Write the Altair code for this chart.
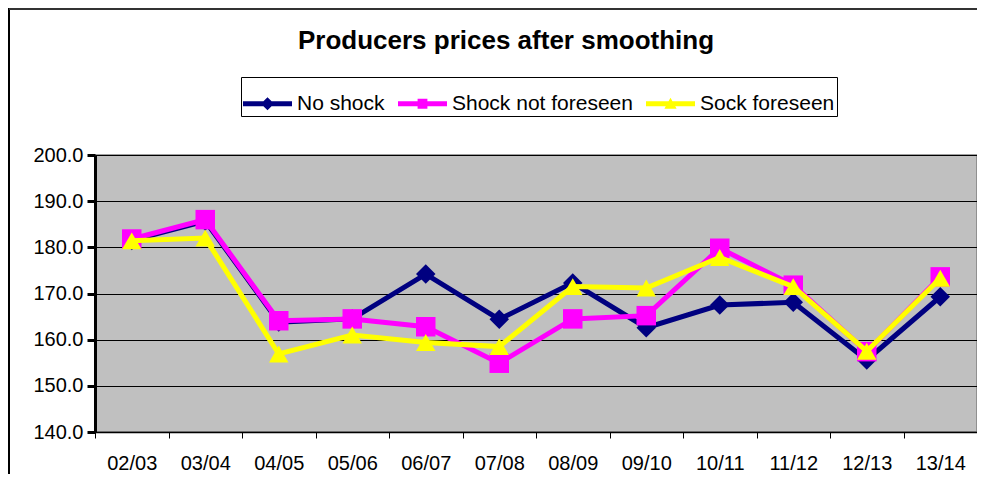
import altair as alt
import pandas as pd

categories = ["02/03", "03/04", "04/05", "05/06", "06/07", "07/08",
              "08/09", "09/10", "10/11", "11/12", "12/13", "13/14"]
no_shock = [181.5, 185.7, 163.8, 164.5, 174.2, 164.4, 172.3, 162.6, 167.5, 168.1, 155.6, 169.3]
shock_not_foreseen = [181.8, 186.0, 164.1, 164.5, 162.8, 154.9, 164.5, 165.2, 179.8, 171.8, 157.4, 173.6]
sock_foreseen = [181.4, 182.0, 156.9, 161.0, 159.4, 158.5, 171.5, 171.2, 177.8, 171.5, 157.5, 173.3]

series_names = ["No shock", "Shock not foreseen", "Sock foreseen"]
series_values = [no_shock, shock_not_foreseen, sock_foreseen]
series_colors = ["#000080", "#FF00FF", "#FFFF00"]
series_shapes = ["diamond", "square", "triangle-up"]
legend_paths = [
    "M-1,-0.1L1,-0.1L1,0.1L-1,0.1Z M0,-0.27L0.27,0L0,0.27L-0.27,0Z",
    "M-1,-0.1L1,-0.1L1,0.1L-1,0.1Z M-0.2,-0.2L0.2,-0.2L0.2,0.2L-0.2,0.2Z",
    "M-1,-0.1L1,-0.1L1,0.1L-1,0.1Z M0,-0.24L0.25,0.2L-0.25,0.2Z",
]

rows = []
for name, vals in zip(series_names, series_values):
    for c, v in zip(categories, vals):
        rows.append({"period": c, "value": v, "series": name})
df = pd.DataFrame(rows)

FONT = "Liberation Sans, Arial, sans-serif"
W, H = 882, 277

x_enc = alt.X("period:N", sort=categories,
              scale=alt.Scale(domain=categories, paddingInner=0, paddingOuter=0),
              axis=alt.Axis(title=None, labelAngle=0, labelFontSize=20, labelFont=FONT,
                            labelColor="black", tickBand="extent", tickSize=6,
                            tickColor="#000000", tickWidth=1, domainColor="black",
                            domainWidth=1.5, labelPadding=15, grid=False))
y_enc = alt.Y("value:Q",
              scale=alt.Scale(domain=[140, 200], nice=False, zero=False),
              axis=alt.Axis(title=None, values=[140, 150, 160, 170, 180, 190, 200],
                            format=".1f", labelFontSize=20, labelFont=FONT,
                            labelColor="black", domainColor="black", domainWidth=3,
                            tickColor="black", tickWidth=3, tickSize=8, labelPadding=4,
                            grid=True, gridColor="black", gridWidth=1))

layers = []
for name, col, shp in zip(series_names, series_colors, series_shapes):
    base = alt.Chart(df).transform_filter(alt.datum.series == name)
    layers.append(base.mark_line(color=col, strokeWidth=5).encode(x=x_enc, y=y_enc))
    layers.append(base.mark_point(filled=True, shape=shp, size=380, color=col,
                                  opacity=1).encode(x=x_enc, y=y_enc))

leg = alt.Legend(orient="none", legendX=146, legendY=-78, direction="horizontal",
                 title=None, labelFontSize=21, labelFont=FONT, labelColor="black",
                 labelLimit=300, symbolSize=2401, symbolStrokeWidth=0,
                 strokeColor="black", fillColor="white", padding=2,
                 columnPadding=13, labelOffset=5, symbolOpacity=1)

legend_layer = alt.Chart(df).transform_filter("false").mark_point(
    filled=True, opacity=1, size=2401).encode(
    x=x_enc, y=y_enc,
    color=alt.Color("series:N", scale=alt.Scale(domain=series_names, range=series_colors),
                    legend=leg),
    shape=alt.Shape("series:N", scale=alt.Scale(domain=series_names, range=legend_paths),
                    legend=leg),
)

border_df = pd.DataFrame({"a": [0]})
left_border = alt.Chart(border_df).mark_rule(color="black", strokeWidth=2).encode(
    x=alt.value(-86), y=alt.value(-147), y2=alt.value(H + 60))
top_border = alt.Chart(border_df).mark_rule(color="#333333", strokeWidth=2).encode(
    x=alt.value(-86), x2=alt.value(W), y=alt.value(-146))

chart = alt.layer(*layers, legend_layer, left_border, top_border).properties(
    width=W, height=H,
    title=alt.TitleParams("Producers prices after smoothing", fontSize=26, font=FONT,
                          fontWeight="bold", color="black", anchor="middle", dx=-30,
                          offset=-47),
    autosize=alt.AutoSizeParams(type="none"),
    padding={"left": 87, "top": 147, "right": 0, "bottom": 42},
).configure(
    background="white",
    view=alt.ViewConfig(fill="#C0C0C0", stroke="#808080", strokeWidth=1.5),
)

chart.save("out.html", embed_options={"renderer": "svg", "actions": False})
